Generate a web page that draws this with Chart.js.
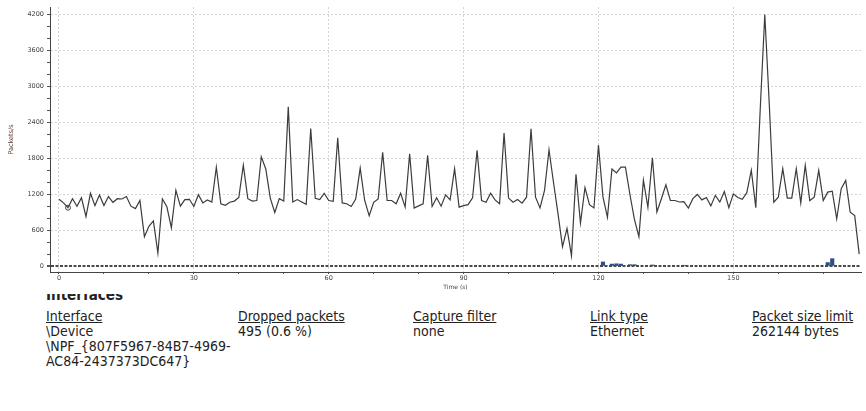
<!DOCTYPE html>
<html>
<head>
<meta charset="utf-8">
<script src="https://cdn.jsdelivr.net/npm/chart.js@4.4.0/dist/chart.umd.min.js"></script>
<style>
  body { margin: 0; background: #fff; width: 866px; height: 411px; overflow: hidden; position: relative;
         font-family: "DejaVu Sans Condensed", "DejaVu Sans", sans-serif; color: #222; }
  #wrap { position: absolute; left: 0; top: 0; width: 866px; height: 291px; }
  .heading { position: absolute; left: 46px; top: 294px; width: 200px; height: 7px; overflow: hidden; }
  .heading span { position: absolute; left: 0; top: -7px; font-weight: bold; font-size: 15px; line-height: 16px; }
  .col { position: absolute; top: 309px; font-size: 14px; line-height: 15px; white-space: nowrap; }
  .col u { text-decoration: underline; }
</style>
</head>
<body>
<div id="wrap"><canvas id="ioGraph" width="866" height="291"></canvas></div>

<div class="heading"><span>Interfaces</span></div>
<div class="col" style="left:46px"><u>Interface</u><br>\Device<br>\NPF_{807F5967-84B7-4969-<br>AC84-2437373DC647}</div>
<div class="col" style="left:238px"><u>Dropped packets</u><br>495 (0.6 %)</div>
<div class="col" style="left:413px"><u>Capture filter</u><br>none</div>
<div class="col" style="left:590px"><u>Link type</u><br>Ethernet</div>
<div class="col" style="left:752px"><u>Packet size limit</u><br>262144 bytes</div>

<script>
// Packets per second, one value per second starting at t = 0
const packetsPerSec = [
    1120, 1060, 980, 1130, 1005, 1145, 830, 1220, 1015, 1190,
    1015, 1165, 1070, 1130, 1125, 1165, 1005, 965, 1100, 497,
    670, 760, 225, 1125, 995, 645, 1270, 1005, 1115, 1120,
    1000, 1195, 1060, 1110, 1075, 1655, 1045, 1020, 1070, 1090,
    1150, 1690, 1130, 1090, 1100, 1828, 1625, 1140, 900, 1130,
    1090, 2660, 1075, 1115, 1075, 1035, 2300, 1135, 1115, 1220,
    1100, 1085, 2145, 1060, 1045, 1000, 1125, 1640, 1100, 845,
    1070, 1127, 1905, 1100, 1100, 1045, 1220, 990, 1880, 975,
    1010, 1045, 1855, 1000, 1145, 1005, 1195, 1110, 1630, 990,
    1015, 1030, 1145, 1935, 1100, 1070, 1220, 1110, 1045, 2225,
    1140, 1070, 1115, 1055, 1155, 2295, 1155, 976, 1267, 1945,
    1400, 880, 330, 635, 178, 1535, 725, 1315, 1030, 975,
    2022, 1160, 820, 1625, 1560, 1655, 1655, 1200, 785, 497,
    1440, 987, 1813, 908, 1130, 1360, 1100, 1100, 1075, 1080,
    975, 1130, 1200, 1110, 1150, 1010, 1185, 1075, 1250, 980,
    1210, 1150, 1120, 1230, 1605, 980, 2650, 4200, 2700, 1071,
    1155, 1629, 1138, 1138, 1629, 1060, 1685, 1099, 1155, 1601,
    1099, 1239, 1255, 792, 1295, 1434, 904, 848, 206
];
const seconds = packetsPerSec.map((_, i) => i);

// Small blue bars near the bottom
const barSeconds = [121, 123, 124, 125, 127, 128, 132, 139, 171, 172];
const barValues = [75, 40, 45, 40, 30, 30, 25, 20, 65, 130];

// Hollow marker on the graph
const markerSeconds = [2];
const markerValues = [980];

// Tick positions (every 10 s / 200 pkt) and the ones that carry a label
const xTickValues = [0, 10, 20, 30, 40, 50, 60, 70, 80, 90, 100, 110, 120, 130, 140, 150, 160, 170];
const xTickLabels = [0, 30, 60, 90, 120, 150];
const yTickValues = [0, 200, 400, 600, 800, 1000, 1200, 1400, 1600, 1800, 2000, 2200,
                     2400, 2600, 2800, 3000, 3200, 3400, 3600, 3800, 4000, 4200];
const yTickLabels = [0, 600, 1200, 1800, 2400, 3000, 3600, 4200];

const ctx = document.getElementById('ioGraph').getContext('2d');
const ioChart = new Chart(ctx, {
    data: {
        datasets: [
            {
                type: 'line',
                data: seconds.map((s, i) => ({ x: s, y: packetsPerSec[i] })),
                borderColor: '#3c3c3c',
                borderWidth: 1.2,
                pointRadius: 0,
                tension: 0,
                order: 1,
            },
            {
                type: 'bar',
                data: barSeconds.map((s, i) => ({ x: s, y: barValues[i] })),
                backgroundColor: '#2c4f86',
                barThickness: 3.5,
                order: 2,
            },
            {
                type: 'scatter',
                data: markerSeconds.map((s, i) => ({ x: s, y: markerValues[i] })),
                pointRadius: 2.5,
                pointBackgroundColor: 'rgba(0,0,0,0)',
                pointBorderColor: '#444',
                pointBorderWidth: 1,
                order: 0,
            },
        ],
    },
    options: {
        responsive: false,
        animation: false,
        layout: { padding: { top: 7, left: 0, right: 0, bottom: 0 } },
        plugins: { legend: { display: false }, tooltip: { enabled: false } },
        scales: {
            x: {
                type: 'linear',
                min: -2,
                max: 178.4,
                offset: false,
                afterFit: (scale) => { scale.height = 19; },
                afterBuildTicks: (scale) => { scale.ticks = xTickValues.map((v) => ({ value: v })); },
                ticks: {
                    autoSkip: false,
                    maxRotation: 0,
                    padding: 0,
                    color: '#444',
                    font: { family: 'DejaVu Sans', size: 6.5 },
                    callback: (v) => (xTickLabels.includes(v) ? v : ''),
                },
                grid: {
                    offset: false,
                    color: (c) => (c.tick && xTickLabels.includes(c.tick.value) ? '#d4d4d4' : 'rgba(0,0,0,0)'),
                    tickColor: '#555',
                    tickLength: 2,
                },
                border: { color: '#444', width: 1, dash: [2, 2] },
                title: {
                    display: true,
                    text: 'Time (s)',
                    color: '#444',
                    font: { family: 'DejaVu Sans', size: 6 },
                    padding: { top: 0, bottom: 0 },
                },
            },
            y: {
                type: 'linear',
                min: -92,
                max: 4325,
                afterFit: (scale) => { scale.width = 50; },
                afterBuildTicks: (scale) => { scale.ticks = yTickValues.map((v) => ({ value: v })); },
                ticks: {
                    autoSkip: false,
                    padding: 3,
                    color: '#444',
                    font: { family: 'DejaVu Sans', size: 6.5 },
                    callback: (v) => (yTickLabels.includes(v) ? v : ''),
                },
                grid: {
                    color: (c) => {
                        if (!c.tick) return 'rgba(0,0,0,0)';
                        if (c.tick.value === 0) return '#4a4a4a';
                        return yTickLabels.includes(c.tick.value) ? '#d4d4d4' : 'rgba(0,0,0,0)';
                    },
                    lineWidth: (c) => (c.tick && c.tick.value === 0 ? 2 : 1),
                    tickColor: '#555',
                    tickLength: 3,
                },
                border: {
                    color: '#444',
                    width: 1,
                    dash: (c) => (c.tick && c.tick.value === 0 ? [3, 1.5] : [2, 2]),
                },
                title: {
                    display: true,
                    text: 'Packets/s',
                    color: '#5a3d30',
                    font: { family: 'DejaVu Sans', size: 6.5 },
                    padding: { top: 7, bottom: 0 },
                },
            },
        },
    },
});
</script>
</body>
</html>
